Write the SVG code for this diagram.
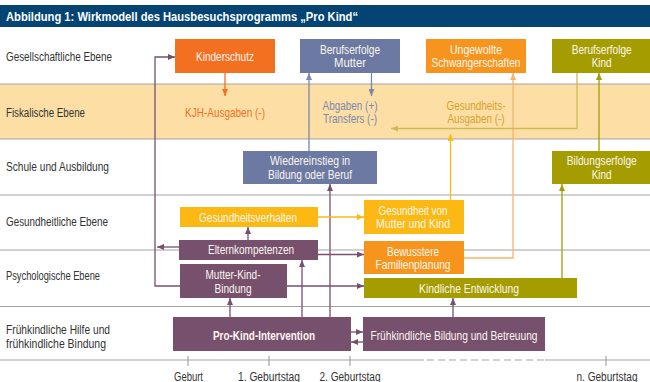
<svg xmlns="http://www.w3.org/2000/svg" width="650" height="382" viewBox="0 0 650 382">
<defs>
<style>
text{font-family:"Liberation Sans",Arial,sans-serif;font-size:12px}
.lbl{fill:#333}
.bt{fill:#fbf7ef;text-anchor:middle}
.ax{fill:#333;text-anchor:middle}
.row{stroke:#a3a3a3;stroke-width:1.2;fill:none}
.c{fill:none;stroke-width:1.3}
.pu{stroke:#77506d}
.bl{stroke:#7b88ad}
.ye{stroke:#fdb913}
.lo{stroke:#fbb46a}
.or{stroke:#f37021}
.ol{stroke:#a59d00}
.lol{stroke:#c9bd55}
</style>
<marker id="mpu" markerUnits="userSpaceOnUse" markerWidth="8" markerHeight="6" refX="7" refY="3" orient="auto"><path d="M0,0L7,3L0,6z" fill="#77506d"/></marker>
<marker id="mbl" markerUnits="userSpaceOnUse" markerWidth="8" markerHeight="6" refX="7" refY="3" orient="auto"><path d="M0,0L7,3L0,6z" fill="#7b88ad"/></marker>
<marker id="mye" markerUnits="userSpaceOnUse" markerWidth="8" markerHeight="6" refX="7" refY="3" orient="auto"><path d="M0,0L7,3L0,6z" fill="#fdb913"/></marker>
<marker id="mlo" markerUnits="userSpaceOnUse" markerWidth="8" markerHeight="6" refX="7" refY="3" orient="auto"><path d="M0,0L7,3L0,6z" fill="#fbb46a"/></marker>
<marker id="mor" markerUnits="userSpaceOnUse" markerWidth="8" markerHeight="6" refX="7" refY="3" orient="auto"><path d="M0,0L7,3L0,6z" fill="#f37021"/></marker>
<marker id="mol" markerUnits="userSpaceOnUse" markerWidth="8" markerHeight="6" refX="7" refY="3" orient="auto"><path d="M0,0L7,3L0,6z" fill="#a59d00"/></marker>
<marker id="mlol" markerUnits="userSpaceOnUse" markerWidth="8" markerHeight="6" refX="7" refY="3" orient="auto"><path d="M0,0L7,3L0,6z" fill="#c9bd55"/></marker>
</defs>
<rect width="650" height="382" fill="#fff"/>
<g id="title">
<rect x="0" y="5" width="650" height="22" fill="#034472"/>
<text x="6" y="21" fill="#fff" font-weight="bold" font-size="13.5" textLength="352" lengthAdjust="spacingAndGlyphs">Abbildung 1: Wirkmodell des Hausbesuchsprogramms „Pro Kind“</text>
</g>
<g id="rows">
<rect x="0" y="84" width="650" height="55" fill="#fddfa5"/>
<path class="row" d="M0,84H650M0,139H650M0,195H650M0,250H650M0,306.5H650"/>
<text class="lbl" x="6" y="61" textLength="106" lengthAdjust="spacingAndGlyphs">Gesellschaftliche Ebene</text>
<text class="lbl" x="6" y="116.5" textLength="79" lengthAdjust="spacingAndGlyphs">Fiskalische Ebene</text>
<text class="lbl" x="6" y="171" textLength="103" lengthAdjust="spacingAndGlyphs">Schule und Ausbildung</text>
<text class="lbl" x="6" y="226" textLength="102" lengthAdjust="spacingAndGlyphs">Gesundheitliche Ebene</text>
<text class="lbl" x="6" y="280" textLength="94" lengthAdjust="spacingAndGlyphs">Psychologische Ebene</text>
<text class="lbl" x="6" y="334" font-size="11.5" textLength="104" lengthAdjust="spacingAndGlyphs">Frühkindliche Hilfe und</text>
<text class="lbl" x="6" y="347.5" font-size="11.5" textLength="100" lengthAdjust="spacingAndGlyphs">frühkindliche Bindung</text>
</g>
<g id="axis">
<path class="row" d="M0,360H424M545,360H650M188,356V366M269,356V366M350,356V366M606,356V366"/>
<path class="row" d="M427,360H545" stroke-dasharray="7,4"/>
<text class="ax" x="188.5" y="380.5" textLength="29" lengthAdjust="spacingAndGlyphs">Geburt</text>
<text class="ax" x="269" y="380.5" textLength="62" lengthAdjust="spacingAndGlyphs">1. Geburtstag</text>
<text class="ax" x="350" y="380.5" textLength="61" lengthAdjust="spacingAndGlyphs">2. Geburtstag</text>
<text class="ax" x="607" y="380.5" textLength="61" lengthAdjust="spacingAndGlyphs">n. Geburtstag</text>
</g>
<g id="connectors">
<path class="c pu" d="M180,286H155V57H175" marker-end="url(#mpu)"/>
<path class="c pu" d="M179,247H157" marker-end="url(#mpu)"/>
<path class="c pu" d="M318,254.5H364" marker-end="url(#mpu)"/>
<path class="c pu" d="M287,286H364" marker-end="url(#mpu)"/>
<path class="c pu" d="M230,317V298" marker-end="url(#mpu)"/>
<path class="c pu" d="M302,317V260" marker-end="url(#mpu)"/>
<path class="c pu" d="M330,317V184" marker-end="url(#mpu)"/>
<path class="c pu" d="M248,240V227" marker-end="url(#mpu)"/>
<path class="c pu" d="M453,317V298" marker-end="url(#mpu)"/>
<path class="c pu" d="M351,332H363" marker-end="url(#mpu)"/>
<path class="c pu" d="M363,342H351" marker-end="url(#mpu)"/>
<path class="c ye" d="M318,217H364" marker-end="url(#mye)"/>
<path class="c ye" d="M450.5,200V134" marker-end="url(#mye)"/>
<path class="c lo" d="M464,258H513V73" marker-end="url(#mlo)"/>
<path class="c bl" d="M371.5,73V96" marker-end="url(#mbl)"/>
<path class="c bl" d="M309,151V73" marker-end="url(#mbl)"/>
<path class="c or" d="M225,72V96" marker-end="url(#mor)"/>
<path class="c lol" d="M577,73V128.5H391" marker-end="url(#mlol)"/>
<path class="c ol" d="M599,151V73" marker-end="url(#mol)"/>
<path class="c ol" d="M562,278V184" marker-end="url(#mol)"/>
</g>
<g id="fiskal-texts">
<text x="225" y="117" fill="#f37021" text-anchor="middle" textLength="80" lengthAdjust="spacingAndGlyphs">KJH-Ausgaben (-)</text>
<text x="350" y="110" fill="#7b88ad" text-anchor="middle" textLength="55" lengthAdjust="spacingAndGlyphs">Abgaben (+)</text>
<text x="350" y="123" fill="#7b88ad" text-anchor="middle" textLength="54" lengthAdjust="spacingAndGlyphs">Transfers (-)</text>
<text x="476" y="110" fill="#d5a12e" text-anchor="middle" textLength="59" lengthAdjust="spacingAndGlyphs">Gesundheits-</text>
<text x="476" y="123" fill="#d5a12e" text-anchor="middle" textLength="57" lengthAdjust="spacingAndGlyphs">Ausgaben (-)</text>
</g>
<g id="kinderschutz"><rect x="175" y="39" width="100" height="34" fill="#f37021"/><text class="bt" x="225" y="61" textLength="58" lengthAdjust="spacingAndGlyphs">Kinderschutz</text></g>
<g id="berufserfolge-mutter"><rect x="300" y="39" width="100" height="34" fill="#6b79a3"/><text class="bt" x="350" y="54" textLength="60" lengthAdjust="spacingAndGlyphs">Berufserfolge</text><text class="bt" x="350" y="66.5" textLength="32" lengthAdjust="spacingAndGlyphs">Mutter</text></g>
<g id="ungewollte"><rect x="426" y="39" width="100" height="34" fill="#f7941d"/><text class="bt" x="476" y="54" textLength="52" lengthAdjust="spacingAndGlyphs">Ungewollte</text><text class="bt" x="476" y="66.5" textLength="89" lengthAdjust="spacingAndGlyphs">Schwangerschaften</text></g>
<g id="berufserfolge-kind"><rect x="552" y="39" width="99" height="34" fill="#a59d00"/><text class="bt" x="601.7" y="54" textLength="60" lengthAdjust="spacingAndGlyphs">Berufserfolge</text><text class="bt" x="601.7" y="66.5" textLength="20" lengthAdjust="spacingAndGlyphs">Kind</text></g>
<g id="wiedereinstieg"><rect x="243" y="151" width="134" height="33" fill="#6b79a3"/><text class="bt" x="310" y="165" textLength="80" lengthAdjust="spacingAndGlyphs">Wiedereinstieg in</text><text class="bt" x="310" y="178.5" textLength="84" lengthAdjust="spacingAndGlyphs">Bildung oder Beruf</text></g>
<g id="bildungserfolge"><rect x="552" y="151" width="98" height="33" fill="#a59d00"/><text class="bt" x="601.7" y="165" textLength="70" lengthAdjust="spacingAndGlyphs">Bildungserfolge</text><text class="bt" x="601.7" y="178.5" textLength="20" lengthAdjust="spacingAndGlyphs">Kind</text></g>
<g id="gesundheitsverhalten"><rect x="180" y="207" width="138" height="20" fill="#fdb913"/><text class="bt" x="248" y="222" textLength="98" lengthAdjust="spacingAndGlyphs">Gesundheitsverhalten</text></g>
<g id="gesundheit-mk"><rect x="364" y="200" width="100" height="34" fill="#fdb913"/><text class="bt" x="413" y="215" textLength="69" lengthAdjust="spacingAndGlyphs">Gesundheit von</text><text class="bt" x="413" y="228" textLength="74" lengthAdjust="spacingAndGlyphs">Mutter und Kind</text></g>
<g id="elternkompetenzen"><rect x="179" y="240" width="139" height="20" fill="#77506d"/><text class="bt" x="251" y="254" textLength="86" lengthAdjust="spacingAndGlyphs">Elternkompetenzen</text></g>
<g id="familienplanung"><rect x="364" y="241" width="100" height="33" fill="#f7941d"/><text class="bt" x="413" y="256" textLength="52" lengthAdjust="spacingAndGlyphs">Bewusstere</text><text class="bt" x="413" y="268.5" textLength="75" lengthAdjust="spacingAndGlyphs">Familienplanung</text></g>
<g id="mutter-kind-bindung"><rect x="180" y="264" width="107" height="34" fill="#77506d"/><text class="bt" x="233" y="279" textLength="55" lengthAdjust="spacingAndGlyphs">Mutter-Kind-</text><text class="bt" x="233" y="292.5" textLength="37" lengthAdjust="spacingAndGlyphs">Bindung</text></g>
<g id="kindliche-entwicklung"><rect x="364" y="278" width="213" height="20" fill="#a59d00"/><text class="bt" x="469" y="292.5" textLength="100" lengthAdjust="spacingAndGlyphs">Kindliche Entwicklung</text></g>
<g id="pro-kind"><rect x="173" y="317" width="178" height="34" fill="#77506d"/><text class="bt" x="264" y="339.5" font-weight="bold" textLength="102" lengthAdjust="spacingAndGlyphs">Pro-Kind-Intervention</text></g>
<g id="fruehkindliche-bildung"><rect x="363" y="317" width="182" height="34" fill="#77506d"/><text class="bt" x="454" y="339.5" textLength="167" lengthAdjust="spacingAndGlyphs">Frühkindliche Bildung und Betreuung</text></g>
</svg>
